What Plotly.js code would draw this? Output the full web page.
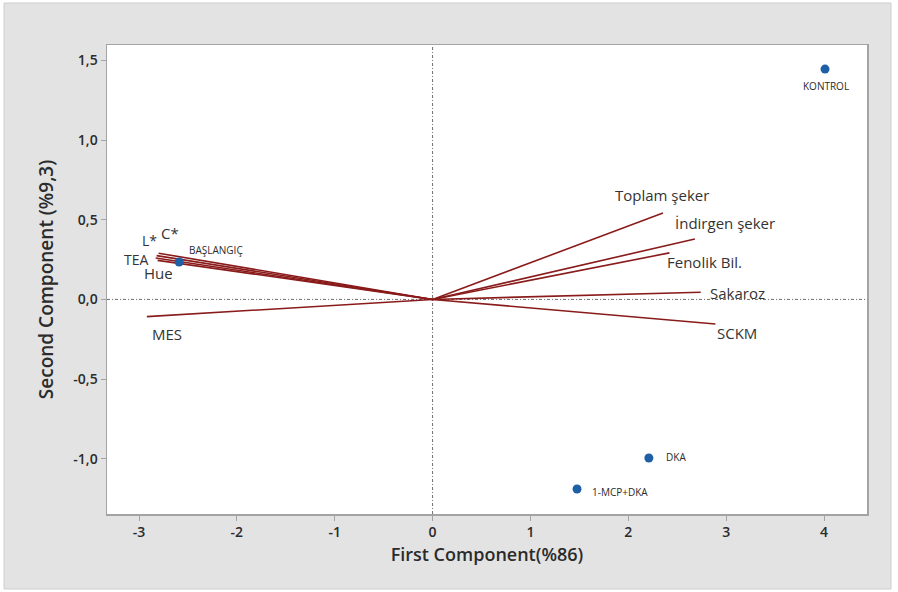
<!DOCTYPE html>
<html>
<head>
<meta charset="utf-8">
<script src="https://cdn.plot.ly/plotly-3.0.1.min.js"></script>
<style>html,body{margin:0;padding:0;background:#fff;}#chart{width:898px;height:592px;}</style>
</head>
<body>
<div id="chart"></div>
<script>
// ---- data ----
const varNames = ["Toplam şeker", "İndirgen şeker", "Fenolik Bil.", "Sakaroz", "SCKM", "MES", "C*", "L*", "TEA", "Hue"];
const varPC1 = [2.354, 2.68, 2.42, 2.74, 2.89, -2.92, -2.80, -2.82, -2.83, -2.81];
const varPC2 = [0.542, 0.379, 0.292, 0.045, -0.154, -0.108, 0.29, 0.275, 0.26, 0.245];

const obsNames = ["KONTROL", "BAŞLANGIÇ", "DKA", "1-MCP+DKA"];
const obsPC1 = [4.01, -2.59, 2.21, 1.476];
const obsPC2 = [1.445, 0.235, -0.995, -1.189];

const xTickVals = [-3, -2, -1, 0, 1, 2, 3, 4];
const xTickText = ["-3", "-2", "-1", "0", "1", "2", "3", "4"];
const yTickVals = [1.5, 1.0, 0.5, 0.0, -0.5, -1.0];
const yTickText = ["1,5", "1,0", "0,5", "0,0", "-0,5", "-1,0"];

// ---- label placement (pixel offsets, styling only) ----
const varLabelShift = [[-49, 18], [-21, 16], [-3, -9], [8, -1], [1, -9], [4, -17], [1, 20], [-16, 15], [-33, -2], [-15, -13]];
const varLabelSize = [15, 15, 15, 15, 15, 15, 15, 14, 14, 15];
const obsLabelStyle = [
  {xanchor: "center", xs: 1, ys: -17},
  {xanchor: "left", xs: 8, ys: 12},
  {xanchor: "left", xs: 15, ys: 1},
  {xanchor: "left", xs: 13, ys: -3}
];

// vectors as one trace with gaps
const vx = [], vy = [];
for (let i = 0; i < varNames.length; i++) {
  vx.push(0, varPC1[i], null);
  vy.push(0, varPC2[i], null);
}

const traces = [
  {
    x: vx, y: vy, mode: "lines", type: "scatter",
    line: {color: "#8a1b1b", width: 1.6},
    hoverinfo: "skip", showlegend: false
  },
  {
    x: obsPC1, y: obsPC2, mode: "markers", type: "scatter",
    marker: {color: "#1f5fa6", size: 9},
    text: obsNames, showlegend: false
  }
];

const annotations = [];
varNames.forEach((n, i) => {
  annotations.push({
    x: varPC1[i], y: varPC2[i], xref: "x", yref: "y", text: n, showarrow: false,
    xanchor: "left", yanchor: "middle", borderpad: 0,
    xshift: varLabelShift[i][0], yshift: varLabelShift[i][1],
    font: {family: "Open Sans, Noto Sans, sans-serif", size: varLabelSize[i], color: "#333333"}
  });
});
obsNames.forEach((n, i) => {
  const s = obsLabelStyle[i];
  annotations.push({
    x: obsPC1[i], y: obsPC2[i], xref: "x", yref: "y", text: n, showarrow: false,
    xanchor: s.xanchor, yanchor: "middle", xshift: s.xs, yshift: s.ys,
    font: {family: "Open Sans, Noto Sans, sans-serif", size: 10, color: "#2b2b2b", weight: 500}
  });
});

// outer frame helpers (paper coords from pixels)
const L = 107, T = 45, R = 31, B = 78, W = 898, H = 592;
const pw = W - L - R, ph = H - T - B;
const px = p => (p - L) / pw;
const py = p => (H - B - p) / ph;

const refDash = "3px,2px,1px,2px";
const shapes = [
  {type: "line", xref: "x", yref: "paper", x0: 0, x1: 0, y0: 0, y1: 1,
   line: {color: "#6e6e6e", width: 1, dash: refDash}, layer: "below"},
  {type: "line", xref: "paper", yref: "y", x0: 0, x1: 1, y0: 0, y1: 0,
   line: {color: "#6e6e6e", width: 1, dash: refDash}, layer: "below"},
  // white outer margin and thin border of the gray panel
  {type: "rect", xref: "paper", yref: "paper", x0: px(0), x1: px(4), y0: py(592), y1: py(0),
   fillcolor: "#ffffff", line: {width: 0}},
  {type: "rect", xref: "paper", yref: "paper", x0: px(891), x1: px(898), y0: py(592), y1: py(0),
   fillcolor: "#ffffff", line: {width: 0}},
  {type: "rect", xref: "paper", yref: "paper", x0: px(0), x1: px(898), y0: py(3), y1: py(0),
   fillcolor: "#ffffff", line: {width: 0}},
  {type: "rect", xref: "paper", yref: "paper", x0: px(0), x1: px(898), y0: py(592), y1: py(589),
   fillcolor: "#ffffff", line: {width: 0}},
  {type: "rect", xref: "paper", yref: "paper", x0: px(4), x1: px(891), y0: py(589), y1: py(3),
   fillcolor: "rgba(0,0,0,0)", line: {color: "#cfcfcf", width: 1}}
];

const tickFont = {family: "Open Sans, Noto Sans, sans-serif", size: 14, color: "#2b2b2b", weight: 600};

const layout = {
  width: W, height: H,
  margin: {l: L, r: R, t: T, b: B},
  paper_bgcolor: "#e3e3e3",
  plot_bgcolor: "#ffffff",
  showlegend: false,
  hovermode: "closest",
  xaxis: {
    range: [-3.327, 4.439], tickvals: xTickVals, ticktext: xTickText,
    showgrid: false, zeroline: false,
    showline: true, mirror: true, linecolor: "#a3a3a3", linewidth: 1.5,
    ticks: "outside", ticklen: 5, tickcolor: "#a3a3a3", tickwidth: 1,
    tickfont: tickFont,
    title: {text: "First Component(%86)", standoff: 8,
            font: {family: "Open Sans, Noto Sans, sans-serif", size: 18, color: "#2b2b2b", weight: 600}}
  },
  yaxis: {
    range: [-1.346, 1.596], tickvals: yTickVals, ticktext: yTickText,
    showgrid: false, zeroline: false,
    showline: true, mirror: true, linecolor: "#a3a3a3", linewidth: 1.5,
    ticks: "outside", ticklen: 5, tickcolor: "#a3a3a3", tickwidth: 1,
    tickfont: tickFont,
    title: {text: "Second Component (%9,3)", standoff: 14,
            font: {family: "Open Sans, Noto Sans, sans-serif", size: 19, color: "#2b2b2b", weight: 600}}
  },
  shapes: shapes,
  annotations: annotations
};

Plotly.newPlot("chart", traces, layout, {displayModeBar: false, staticPlot: true});
</script>
</body>
</html>
